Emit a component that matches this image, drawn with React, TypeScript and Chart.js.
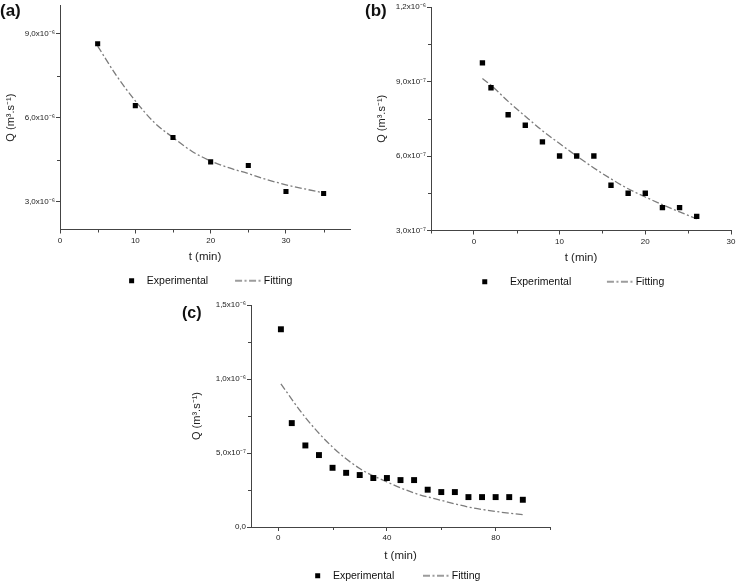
import React, { useEffect, useRef } from "react";
import { Chart, registerables } from "chart.js";

Chart.register(...registerables);

const FONT = "'Liberation Sans', Arial, Helvetica, sans-serif";
const AXIS = "#444444";
const TEXT = "#222222";
const FIT_COLOR = "#7c7c7c";
const FIT_DASH = [7, 2.5, 2, 2.5];

// ---------- Panel (a) ----------
const tA = [5, 10, 15, 20, 25, 30, 35];
const qA = [8.64e-6, 6.43e-6, 5.29e-6, 4.42e-6, 4.29e-6, 3.36e-6, 3.29e-6];
const fitTA = [5, 7.5, 10, 12.5, 15, 17.5, 20, 22.5, 25, 27.5, 30, 32.5, 35];
const fitQA = [8.56e-6, 7.5e-6, 6.6e-6, 5.83e-6, 5.29e-6, 4.8e-6, 4.45e-6, 4.2e-6, 4.0e-6, 3.78e-6, 3.6e-6, 3.45e-6, 3.31e-6];
const xMajorA = [0, 10, 20, 30];
const xLabelsA = ["0", "10", "20", "30"];
const xMinorA = [5, 15, 25, 35];
const yMajorA = [3e-6, 6e-6, 9e-6];
const yLabelsA = ["3,0x10⁻⁶", "6,0x10⁻⁶", "9,0x10⁻⁶"];
const yMinorA = [4.5e-6, 7.5e-6];

// ---------- Panel (b) ----------
const tB = [1, 2, 4, 6, 8, 10, 12, 14, 16, 18, 20, 22, 24, 26];
const qB = [9.75e-7, 8.75e-7, 7.66e-7, 7.24e-7, 6.57e-7, 6.0e-7, 6.0e-7, 6.0e-7, 4.82e-7, 4.5e-7, 4.5e-7, 3.92e-7, 3.92e-7, 3.57e-7];
const fitTB = [1, 2, 4, 6, 8, 10, 12, 14, 16, 18, 20, 22, 24, 26];
const fitQB = [9.12e-7, 8.85e-7, 8.2e-7, 7.6e-7, 7.02e-7, 6.5e-7, 6.0e-7, 5.52e-7, 5.08e-7, 4.68e-7, 4.35e-7, 4.04e-7, 3.75e-7, 3.47e-7];
const xMajorB = [0, 10, 20, 30];
const xLabelsB = ["0", "10", "20", "30"];
const xMinorB = [-5, 5, 15, 25];
const yMajorB = [3e-7, 6e-7, 9e-7, 1.2e-6];
const yLabelsB = ["3,0x10⁻⁷", "6,0x10⁻⁷", "9,0x10⁻⁷", "1,2x10⁻⁶"];
const yMinorB = [4.5e-7, 7.5e-7, 1.05e-6];

// ---------- Panel (c) ----------
const tC = [1, 5, 10, 15, 20, 25, 30, 35, 40, 45, 50, 55, 60, 65, 70, 75, 80, 85, 90];
const qC = [1.336e-6, 7.02e-7, 5.51e-7, 4.86e-7, 4.0e-7, 3.66e-7, 3.51e-7, 3.31e-7, 3.31e-7, 3.17e-7, 3.17e-7, 2.52e-7, 2.36e-7, 2.36e-7, 2.02e-7, 2.02e-7, 2.02e-7, 2.02e-7, 1.84e-7];
const fitTC = [1, 10, 20, 30, 40, 50, 60, 70, 80, 90];
const fitQC = [9.67e-7, 7.4e-7, 5.4e-7, 3.95e-7, 3.05e-7, 2.3e-7, 1.8e-7, 1.35e-7, 1.05e-7, 0.83e-7];
const xMajorC = [0, 40, 80];
const xLabelsC = ["0", "40", "80"];
const xMinorC = [20, 60, 100];
const yMajorC = [0, 5e-7, 1e-6, 1.5e-6];
const yLabelsC = ["0,0", "5,0x10⁻⁷", "1,0x10⁻⁶", "1,5x10⁻⁶"];
const yMinorC = [2.5e-7, 7.5e-7, 1.25e-6];

const SERIES_LABELS = ["Experimental", "Fitting"];
const X_TITLE = "t (min)";
const Y_TITLE = "Q (m³.s⁻¹)";

type Panel = {
  t: number[]; q: number[]; ft: number[]; fq: number[];
  xMin: number; xMax: number; yMin: number; yMax: number;
  xMajor: number[]; xLabels: string[]; xMinor: number[];
  yMajor: number[]; yLabels: string[]; yMinor: number[];
  left: number; top: number; w: number; h: number;
  padTop: number; yW: number; xH: number; rW: number;
  yTitlePad: number; legendPad: number; nbsp: number; sqOff: number; r: number;
};

const panels: Panel[] = [
  {
    t: tA, q: qA, ft: fitTA, fq: fitQA,
    xMin: 0, xMax: 38.5, yMin: 2e-6, yMax: 1e-5,
    xMajor: xMajorA, xLabels: xLabelsA, xMinor: xMinorA,
    yMajor: yMajorA, yLabels: yLabelsA, yMinor: yMinorA,
    left: 0, top: 0, w: 414, h: 296, padTop: 5, yW: 60, xH: 36, rW: 64,
    yTitlePad: 4, legendPad: 10, nbsp: 7, sqOff: 0, r: 3.6,
  },
  {
    t: tB, q: qB, ft: fitTB, fq: fitQB,
    xMin: -5, xMax: 30, yMin: 3e-7, yMax: 1.2e-6,
    xMajor: xMajorB, xLabels: xLabelsB, xMinor: xMinorB,
    yMajor: yMajorB, yLabels: yLabelsB, yMinor: yMinorB,
    left: 370, top: 0, w: 409, h: 297, padTop: 7, yW: 61, xH: 36, rW: 48,
    yTitlePad: 5.5, legendPad: 10, nbsp: 10, sqOff: -10, r: 3.8,
  },
  {
    t: tC, q: qC, ft: fitTC, fq: fitQC,
    xMin: -10, xMax: 100, yMin: 0, yMax: 1.5e-6,
    xMajor: xMajorC, xLabels: xLabelsC, xMinor: xMinorC,
    yMajor: yMajorC, yLabels: yLabelsC, yMinor: yMinorC,
    left: 180, top: 290, w: 428, h: 301, padTop: 15, yW: 71, xH: 37.5, rW: 58,
    yTitlePad: 10, legendPad: 6, nbsp: 9, sqOff: 0, r: 4.2,
  },
];

function squareIcon(offset: number, size: number): HTMLCanvasElement {
  const c = document.createElement("canvas");
  const half = Math.abs(offset) + size / 2 + 1;
  c.width = Math.ceil(half * 2);
  c.height = size + 2;
  const g = c.getContext("2d")!;
  g.fillStyle = "#000";
  g.fillRect(c.width / 2 + offset - size / 2, 1, size, size);
  return c;
}

function lineIcon(len: number): HTMLCanvasElement {
  const c = document.createElement("canvas");
  c.width = len + 2;
  c.height = 4;
  const g = c.getContext("2d")!;
  g.strokeStyle = FIT_COLOR;
  g.lineWidth = 1.3;
  g.setLineDash(FIT_DASH);
  g.beginPath();
  g.moveTo(1, 2);
  g.lineTo(len + 1, 2);
  g.stroke();
  return c;
}

function labelFor(values: number[], labels: string[], v: number): string {
  for (let i = 0; i < values.length; i++) {
    if (Math.abs(values[i] - v) <= Math.abs(values[i]) * 1e-6 + 1e-15) return labels[i];
  }
  return "";
}

function makeConfig(p: Panel): any {
  const sq = squareIcon(p.sqOff, 5);
  const ln = lineIcon(27);
  const pad = "\u00A0".repeat(p.nbsp);
  const minorPlugin = {
    id: "minorTicks",
    afterDraw(chart: any) {
      const { ctx, chartArea, scales } = chart;
      ctx.save();
      ctx.strokeStyle = AXIS;
      ctx.lineWidth = 1;
      ctx.beginPath();
      p.xMinor.forEach((v) => {
        const px = Math.round(scales.x.getPixelForValue(v)) + 0.5;
        ctx.moveTo(px, chartArea.bottom);
        ctx.lineTo(px, chartArea.bottom + 3);
      });
      p.yMinor.forEach((v) => {
        const py = Math.round(scales.y.getPixelForValue(v)) + 0.5;
        ctx.moveTo(chartArea.left, py);
        ctx.lineTo(chartArea.left - 3, py);
      });
      ctx.stroke();
      ctx.restore();
    },
  };
  return {
    type: "scatter",
    data: {
      datasets: [
        {
          label: SERIES_LABELS[0],
          data: p.t.map((x, i) => ({ x, y: p.q[i] })),
          pointStyle: "rect",
          pointRadius: p.r,
          backgroundColor: "#000",
          borderColor: "#000",
          pointBorderWidth: 0,
          showLine: false,
        },
        {
          label: SERIES_LABELS[1],
          data: p.ft.map((x, i) => ({ x, y: p.fq[i] })),
          showLine: true,
          borderColor: FIT_COLOR,
          backgroundColor: FIT_COLOR,
          borderWidth: 1.3,
          borderDash: FIT_DASH,
          pointRadius: 0,
          fill: false,
          cubicInterpolationMode: "monotone",
        },
      ],
    },
    options: {
      responsive: false,
      animation: false,
      events: [],
      layout: { padding: { top: p.padTop, left: 0, right: 0, bottom: 0 } },
      plugins: {
        tooltip: { enabled: false },
        legend: {
          display: true,
          position: "bottom",
          align: "center",
          labels: {
            usePointStyle: true,
            pointStyleWidth: 20,
            padding: p.legendPad,
            color: "#111",
            font: { family: FONT, size: 10.5 },
            generateLabels: (chart: any) => {
              const items = (Chart.defaults.plugins.legend.labels as any).generateLabels(chart);
              items[0].pointStyle = sq;
              items[0].text = SERIES_LABELS[0] + pad;
              items[1].pointStyle = ln;
              return items;
            },
          },
        },
      },
      scales: {
        x: {
          type: "linear",
          position: "bottom",
          min: p.xMin,
          max: p.xMax,
          afterBuildTicks: (s: any) => {
            s.ticks = p.xMajor.map((v) => ({ value: v }));
          },
          afterFit: (s: any) => {
            s.height = p.xH;
          },
          ticks: {
            autoSkip: false,
            maxRotation: 0,
            padding: 2,
            color: TEXT,
            font: { family: FONT, size: 8 },
            callback: (v: number) => labelFor(p.xMajor, p.xLabels, v),
          },
          grid: { display: true, drawOnChartArea: false, drawTicks: true, tickLength: 4, color: AXIS, tickColor: AXIS },
          border: { display: true, color: AXIS, width: 1 },
          title: {
            display: true,
            text: X_TITLE,
            color: TEXT,
            font: { family: FONT, size: 11.5 },
            padding: { top: 0, bottom: 2 },
          },
        },
        y: {
          type: "linear",
          position: "left",
          min: p.yMin,
          max: p.yMax,
          afterBuildTicks: (s: any) => {
            s.ticks = p.yMajor.map((v) => ({ value: v }));
          },
          afterFit: (s: any) => {
            s.width = p.yW;
          },
          ticks: {
            autoSkip: false,
            padding: 1,
            color: TEXT,
            font: { family: FONT, size: 8 },
            callback: (v: number) => labelFor(p.yMajor, p.yLabels, v),
          },
          grid: { display: true, drawOnChartArea: false, drawTicks: true, tickLength: 4, color: AXIS, tickColor: AXIS },
          border: { display: true, color: AXIS, width: 1 },
          title: {
            display: true,
            text: Y_TITLE,
            color: TEXT,
            font: { family: FONT, size: 11 },
            padding: { top: p.yTitlePad, bottom: 0 },
          },
        },
        yR: {
          type: "linear",
          position: "right",
          display: true,
          min: 0,
          max: 1,
          afterFit: (s: any) => {
            s.width = p.rW;
          },
          ticks: { display: false },
          grid: { display: false, drawTicks: false },
          border: { display: false },
        },
      },
    },
    plugins: [minorPlugin],
  };
}

function PanelChart({ p }: { p: Panel }) {
  const ref = useRef<HTMLCanvasElement | null>(null);
  useEffect(() => {
    if (!ref.current) return;
    const chart = new Chart(ref.current, makeConfig(p));
    return () => chart.destroy();
  }, [p]);
  return (
    <canvas
      ref={ref}
      width={p.w}
      height={p.h}
      style={{ position: "absolute", left: p.left, top: p.top, width: p.w, height: p.h }}
    />
  );
}

const PANEL_TAGS = ["(a)", "(b)", "(c)"];

export default function App() {
  const tagStyle = (left: number, top: number, size: number): React.CSSProperties => ({
    position: "absolute",
    left,
    top,
    fontFamily: FONT,
    fontWeight: "bold",
    fontSize: size,
    lineHeight: 1,
    color: "#111",
  });
  return (
    <div
      style={{
        position: "fixed",
        left: 0,
        top: 0,
        width: 738,
        height: 584,
        overflow: "hidden",
        background: "#fff",
      }}
    >
      {panels.map((p, i) => (
        <PanelChart key={i} p={p} />
      ))}
      <div style={tagStyle(0, 2, 17)}>{PANEL_TAGS[0]}</div>
      <div style={tagStyle(365, 2, 17)}>{PANEL_TAGS[1]}</div>
      <div style={tagStyle(182, 305, 16)}>{PANEL_TAGS[2]}</div>
    </div>
  );
}
